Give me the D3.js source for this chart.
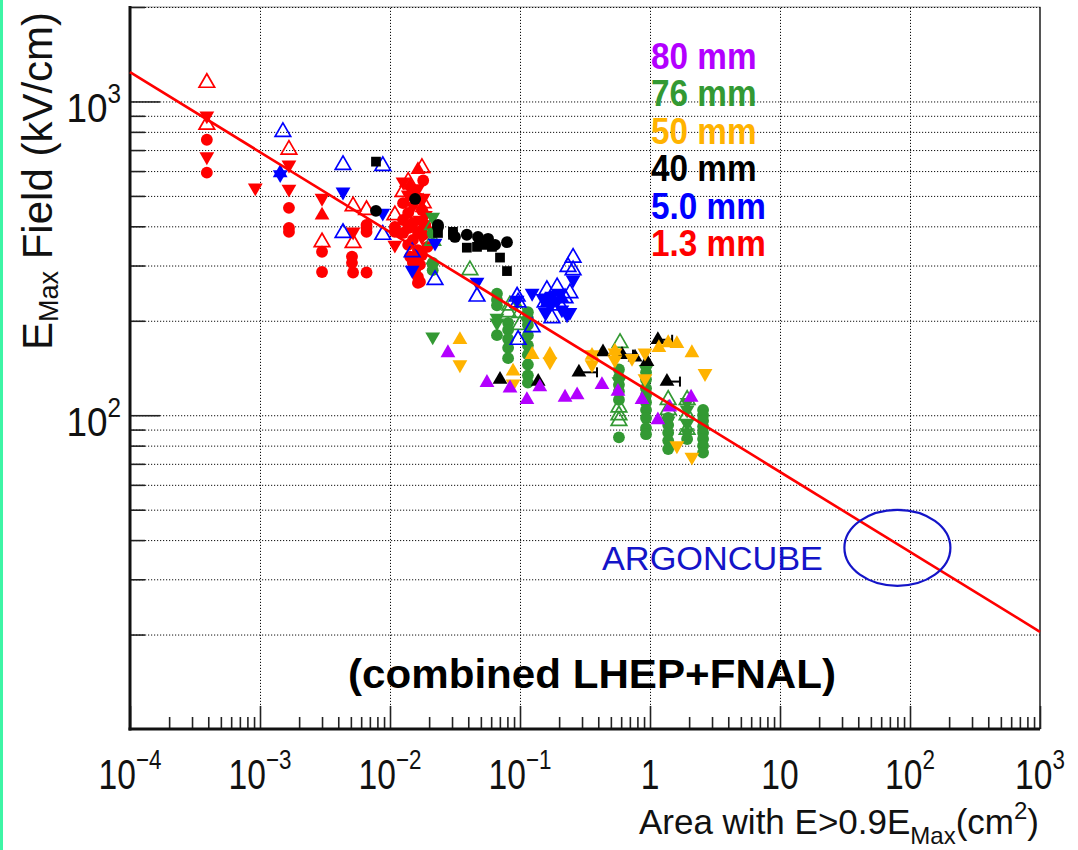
<!DOCTYPE html>
<html>
<head>
<meta charset="utf-8">
<script src="https://cdn.jsdelivr.net/npm/d3@7"></script>
<style>
  body { margin: 0; background: #fff; }
  svg { display: block; font-family: "Liberation Sans", Arial, Helvetica, sans-serif; }
</style>
</head>
<body>
<div class="chart"></div>
<script>
var svgWidth = 1078;
var svgHeight = 850;

// plot frame (pixels)
var frame = { left: 130, right: 1040, top: 7, bottom: 729 };

// axis ticks / labels
var xMajor = [1e-4, 1e-3, 1e-2, 1e-1, 1, 10, 100, 1000];
var xLabelBase = ["10", "10", "10", "10", "1", "10", "10", "10"];
var xLabelExp = ["\u22124", "\u22123", "\u22122", "\u22121", "", "", "2", "3"];
var yMajor = [100, 1000];
var yLabelBase = ["10", "10"];
var yLabelExp = ["2", "3"];

// legend
var legendLabels = ["80 mm", "76 mm", "50 mm", "40 mm", "5.0 mm", "1.3 mm"];
var legendColors = ["#b300ff", "#339933", "#ffb300", "#000000", "#0000ff", "#ff0000"];

// power-law fit line (end points)
var fitX = [1e-4, 1e3];
var fitY = [1240, 20.4];

// ---- 1.3 mm (red)
var redCircles = [[3.9e-4, 755], [3.9e-4, 593], [1.67e-3, 458], [1.67e-3, 395], [1.67e-3, 384],
  [3.0e-3, 332], [3.0e-3, 286], [5.1e-3, 320], [5.1e-3, 306], [5.2e-3, 285], [6.6e-3, 404],
  [6.6e-3, 395], [6.6e-3, 384], [6.6e-3, 285], [1.09e-2, 398], [1.09e-2, 384], [1.26e-2, 474],
  [1.26e-2, 419], [1.26e-2, 381], [1.38e-2, 441], [1.38e-2, 395], [1.38e-2, 349], [1.43e-2, 320],
  [1.5e-2, 410], [1.5e-2, 362], [1.5e-2, 306], [1.56e-2, 290], [1.64e-2, 276], [1.64e-2, 336],
  [1.64e-2, 384], [1.64e-2, 264], [1.7e-2, 266], [1.7e-2, 302], [1.76e-2, 451], [1.76e-2, 324],
  [1.8e-2, 376], [1.87e-2, 404], [1.94e-2, 344], [1.5e-2, 520], [1.7e-2, 490], [1.8e-2, 560]];
var redDown = [[3.9e-4, 900], [3.9e-4, 667], [9.2e-4, 531], [1.67e-3, 628], [1.67e-3, 526],
  [3.0e-3, 492], [5.2e-3, 384], [1.09e-2, 349], [1.26e-2, 555], [1.38e-2, 504], [1.5e-2, 464],
  [1.64e-2, 528], [1.7e-2, 419], [1.76e-2, 370], [1.8e-2, 492], [1.87e-2, 434], [1.64e-2, 314]];
var redUp = [[3.0e-3, 434], [1.64e-2, 606], [1.76e-2, 458], [1.43e-2, 540]];
var redOpen = [[3.9e-4, 1147], [3.9e-4, 843], [1.67e-3, 702], [3.0e-3, 356], [5.2e-3, 464],
  [5.2e-3, 354], [6.6e-3, 451], [1.09e-2, 434], [1.38e-2, 555], [1.76e-2, 614], [1.8e-2, 474],
  [1.26e-2, 515], [1.94e-2, 410]];

// ---- 5.0 mm (blue)
var blueOpen = [[1.5e-3, 800], [4.35e-3, 628], [4.35e-3, 381], [8.8e-3, 623], [8.8e-3, 376],
  [1.48e-2, 331], [2.22e-2, 270], [4.67e-2, 239], [9.5e-2, 239], [9.67e-2, 174], [9.67e-2, 229],
  [0.124, 191], [0.161, 251], [0.193, 256], [0.176, 204], [0.234, 297], [0.256, 318],
  [0.256, 290], [0.242, 245], [0.156, 229], [0.203, 224], [0.222, 236]];
var blueDown = [[1.43e-3, 585], [4.35e-3, 515], [8.8e-3, 441], [1.48e-2, 290], [2.22e-2, 354],
  [4.67e-2, 266], [9.5e-2, 233], [0.124, 245], [0.256, 270], [0.150, 236], [0.17, 224],
  [0.193, 231], [0.21, 217], [0.23, 209], [0.242, 213], [0.176, 240], [0.2, 245], [0.156, 213]];
var blueUp = [[1.43e-3, 592], [0.161, 228], [0.21, 236]];

// ---- 40 mm (black)
var blackSquares = [[7.8e-3, 643], [2.34e-2, 381], [3.05e-2, 376], [3.05e-2, 384], [3.9e-2, 342],
  [4.67e-2, 344], [5.38e-2, 349], [6.08e-2, 344], [7.02e-2, 318], [7.94e-2, 288]];
var blackCircles = [[7.8e-3, 448], [1.56e-2, 489], [2.34e-2, 398], [2.34e-2, 404], [3.16e-2, 370],
  [3.9e-2, 376], [4.75e-2, 370], [5.68e-2, 365], [6.43e-2, 349], [7.94e-2, 356]];
var blackUp = [[7.02e-2, 130], [0.138, 128], [0.284, 137], [0.435, 159], [0.609, 156],
  [0.767, 153], [0.948, 148], [1.15, 174], [1.35, 128]];
// horizontal error bars: [x, y, xHigh]
var blackErr = [[0.284, 137, 0.391], [0.609, 156, 0.74], [1.15, 174, 1.48], [1.35, 128, 1.70]];

// ---- 50 mm (orange)
var orangeUp = [[3.45e-2, 174], [0.124, 156], [8.84e-2, 138], [0.358, 155], [0.537, 160],
  [1.38, 170], [1.61, 169], [2.1, 158], [1.17, 164], [0.17, 156]];
var orangeDown = [[3.45e-2, 145], [8.84e-2, 126], [0.17, 148], [0.358, 145], [0.358, 156],
  [0.537, 150], [0.538, 158], [0.727, 152], [0.915, 158], [0.915, 131], [2.65, 136],
  [1.61, 80], [2.1, 73.6]];

// ---- 80 mm (purple)
var purpleUp = [[2.79e-2, 158], [5.57e-2, 127], [8.38e-2, 122], [0.113, 112], [0.142, 123],
  [0.222, 114], [0.275, 116], [0.427, 125], [0.567, 119], [0.868, 112], [1.15, 96.6],
  [1.42, 106], [2.07, 114]];

// ---- 76 mm (green)
var greenCircles = [[0.0213, 306], [0.0213, 290], [0.0213, 380], [0.0665, 244], [0.0665, 233],
  [0.0665, 224], [0.0665, 180], [0.081, 197], [0.081, 187], [0.081, 175], [0.081, 164],
  [0.081, 152], [0.115, 213], [0.115, 204], [0.115, 194], [0.115, 180], [0.115, 167],
  [0.115, 156], [0.115, 145], [0.115, 134], [0.115, 127], [0.577, 140], [0.577, 132],
  [0.577, 125], [0.577, 119], [0.577, 112], [0.577, 85], [0.932, 137], [0.932, 130],
  [0.932, 122], [0.932, 116], [0.932, 110], [0.932, 104], [0.932, 98], [0.932, 91],
  [0.932, 87], [1.38, 98], [1.38, 93], [1.38, 88], [1.38, 83], [1.38, 78], [1.93, 84],
  [2.56, 104], [2.56, 100], [2.56, 96], [2.56, 92], [2.56, 88], [2.56, 84], [2.56, 80],
  [2.56, 76]];
var greenDown = [[0.0213, 428], [0.0213, 297], [0.0213, 178], [0.0665, 204], [0.0665, 197],
  [0.577, 128], [0.932, 140], [1.38, 96], [1.93, 110], [1.93, 104], [1.93, 94], [1.93, 88]];
var greenOpen = [[0.0213, 404], [0.0213, 360], [0.0412, 290], [0.081, 213], [0.0835, 224],
  [0.1, 212], [0.1, 194], [0.588, 170], [0.577, 106], [0.577, 100], [0.577, 96], [1.38, 112],
  [1.38, 104], [1.93, 112], [1.93, 100], [1.93, 90]];

// ARGONCUBE marker (centre in data units)
var argonX = [80];
var argonY = [37.8];

var RED = "#ff0000", BLUE = "#0000ff", GREEN = "#339933", ORANGE = "#ffb300",
  PURPLE = "#b300ff", BLACK = "#000000";

var svg = d3.select(".chart").append("svg")
  .attr("width", svgWidth)
  .attr("height", svgHeight);

svg.append("rect").attr("width", svgWidth).attr("height", svgHeight).attr("fill", "#fff");
// slide edge strip
svg.append("rect").attr("x", 0).attr("y", 0).attr("width", 3).attr("height", svgHeight)
  .attr("fill", "#3df5a5");

var x = d3.scaleLog().domain([1e-4, 1e3]).range([frame.left, frame.right]);
var y = d3.scaleLog().domain([10, 2000]).range([frame.bottom, frame.top]);

var plotW = frame.right - frame.left;
var plotH = frame.bottom - frame.top;

// minor tick values
var xMinor = [];
xMajor.slice(0, -1).forEach(function (d) {
  for (var k = 2; k <= 9; k++) xMinor.push(d * k);
});
var yMinor = [20, 30, 40, 50, 60, 70, 80, 90, 200, 300, 400, 500, 600, 700, 800, 900, 2000];
var yGrid = yMinor.concat(yMajor);

// frame
svg.append("rect")
  .attr("x", frame.left).attr("y", frame.top)
  .attr("width", plotW).attr("height", plotH)
  .attr("fill", "none").attr("stroke", "#999").attr("stroke-width", 1);
svg.append("line")
  .attr("x1", frame.right).attr("x2", frame.right)
  .attr("y1", frame.top).attr("y2", frame.bottom)
  .attr("stroke", "#555").attr("stroke-width", 2);

// grid lines
var gridY = svg.append("g")
  .attr("transform", `translate(${frame.left},0)`)
  .call(d3.axisLeft(y).tickValues(yGrid).tickSize(-plotW).tickFormat(""));
gridY.select(".domain").remove();
gridY.selectAll("line").attr("stroke", "#111").attr("stroke-dasharray", "1.2,1.8");

var gridX = svg.append("g")
  .attr("transform", `translate(0,${frame.bottom})`)
  .call(d3.axisBottom(x).tickValues(xMajor.slice(1, -1)).tickSize(-plotH).tickFormat(""));
gridX.select(".domain").remove();
gridX.selectAll("line").attr("stroke", "#111").attr("stroke-dasharray", "1.2,1.8");

// axis ticks (inward)
function tickAxis(axis, len, vals) {
  return axis.tickValues(vals).tickSize(-len).tickSizeOuter(0).tickFormat("");
}
var yAxisG = svg.append("g").attr("transform", `translate(${frame.left},0)`);
yAxisG.append("g").call(tickAxis(d3.axisLeft(y), 15, yMinor));
yAxisG.append("g").call(tickAxis(d3.axisLeft(y), 30, yMajor));
var xAxisG = svg.append("g").attr("transform", `translate(0,${frame.bottom})`);
xAxisG.append("g").call(tickAxis(d3.axisBottom(x), 12, xMinor));
xAxisG.append("g").call(tickAxis(d3.axisBottom(x), 23, xMajor));
svg.selectAll("g .domain").attr("stroke", "none");
yAxisG.selectAll("line").attr("stroke", "#222").attr("stroke-width", 1.6);
xAxisG.selectAll("line").attr("stroke", "#222").attr("stroke-width", 1.6);

// thick left & bottom axis lines
svg.append("line").attr("x1", frame.left).attr("x2", frame.left)
  .attr("y1", frame.top - 1).attr("y2", frame.bottom + 1.5)
  .attr("stroke", "#111").attr("stroke-width", 3);
svg.append("line").attr("x1", frame.left - 1.5).attr("x2", frame.right)
  .attr("y1", frame.bottom).attr("y2", frame.bottom)
  .attr("stroke", "#111").attr("stroke-width", 3);

// tick labels
xMajor.forEach(function (v, i) {
  var t = svg.append("text")
    .attr("transform", `translate(${x(v)},789) scale(0.8,1)`)
    .attr("text-anchor", "middle")
    .attr("font-size", 42)
    .attr("fill", "#111");
  t.append("tspan").text(xLabelBase[i]);
  if (xLabelExp[i]) {
    t.append("tspan").attr("dy", -20).attr("font-size", 28).text(xLabelExp[i]);
  }
});
yMajor.forEach(function (v, i) {
  var t = svg.append("text")
    .attr("transform", `translate(121,${y(v) + 21}) scale(0.9,1)`)
    .attr("text-anchor", "end")
    .attr("font-size", 41)
    .attr("fill", "#111");
  t.append("tspan").text(yLabelBase[i]);
  t.append("tspan").attr("dy", -19).attr("font-size", 27).text(yLabelExp[i]);
});

// axis titles
var xTitle = svg.append("text")
  .attr("x", 1039).attr("y", 834)
  .attr("text-anchor", "end")
  .attr("font-size", 35)
  .attr("fill", "#111");
xTitle.append("tspan").text("Area with E>0.9E");
xTitle.append("tspan").attr("dy", 10).attr("font-size", 24).text("Max");
xTitle.append("tspan").attr("dy", -10).text("(cm");
xTitle.append("tspan").attr("dy", -15).attr("font-size", 24).text("2");
xTitle.append("tspan").attr("dy", 15).text(")");

var yTitle = svg.append("text")
  .attr("transform", "translate(52,350) rotate(-90)")
  .attr("text-anchor", "start")
  .attr("font-size", 42)
  .attr("fill", "#111");
yTitle.append("tspan").text("E");
yTitle.append("tspan").attr("dy", 6).attr("font-size", 27).text("Max");
yTitle.append("tspan").attr("dy", -6).text(" Field (kV/cm)");

// scatter series
var series = [
  { pts: redCircles, color: RED, shape: "circle" },
  { pts: redDown, color: RED, shape: "down" },
  { pts: redUp, color: RED, shape: "up" },
  { pts: redOpen, color: RED, shape: "open" },
  { pts: greenCircles, color: GREEN, shape: "circle" },
  { pts: greenDown, color: GREEN, shape: "down" },
  { pts: greenOpen, color: GREEN, shape: "open" },
  { pts: blueDown, color: BLUE, shape: "down" },
  { pts: blueUp, color: BLUE, shape: "up" },
  { pts: blueOpen, color: BLUE, shape: "open" },
  { pts: blackSquares, color: BLACK, shape: "square" },
  { pts: blackCircles, color: BLACK, shape: "circle" },
  { pts: blackUp, color: BLACK, shape: "up" },
  { pts: orangeUp, color: ORANGE, shape: "up" },
  { pts: orangeDown, color: ORANGE, shape: "down" },
  { pts: purpleUp, color: PURPLE, shape: "up" }
];

var symCircle = d3.symbol(d3.symbolCircle, 110);
var symTri = d3.symbol(d3.symbolTriangle, 95);
var symOpen = d3.symbol(d3.symbolTriangle, 105);
var symSquare = d3.symbol(d3.symbolSquare, 95);

var marks = svg.append("g");
// error bars first
var errG = marks.append("g").attr("stroke", BLACK).attr("stroke-width", 2);
errG.selectAll("line.err")
  .data(blackErr).enter().append("line")
  .attr("x1", d => x(d[0])).attr("x2", d => x(d[2]))
  .attr("y1", d => y(d[1])).attr("y2", d => y(d[1]));
errG.selectAll("line.cap")
  .data(blackErr).enter().append("line")
  .attr("x1", d => x(d[2])).attr("x2", d => x(d[2]))
  .attr("y1", d => y(d[1]) - 5).attr("y2", d => y(d[1]) + 5);

series.forEach(function (s) {
  var g = marks.append("g");
  var p = g.selectAll("path").data(s.pts).enter().append("path");
  if (s.shape === "circle") {
    p.attr("d", symCircle).attr("fill", s.color)
      .attr("transform", d => `translate(${x(d[0])},${y(d[1])})`);
  } else if (s.shape === "square") {
    p.attr("d", symSquare).attr("fill", s.color)
      .attr("transform", d => `translate(${x(d[0])},${y(d[1])})`);
  } else if (s.shape === "up") {
    p.attr("d", symTri).attr("fill", s.color)
      .attr("transform", d => `translate(${x(d[0])},${y(d[1])})`);
  } else if (s.shape === "down") {
    p.attr("d", symTri).attr("fill", s.color)
      .attr("transform", d => `translate(${x(d[0])},${y(d[1])}) rotate(180)`);
  } else {
    p.attr("d", symOpen).attr("fill", "none").attr("stroke", s.color).attr("stroke-width", 1.7)
      .attr("transform", d => `translate(${x(d[0])},${y(d[1])})`);
  }
});

// fit line
var fitData = fitX.map((d, i) => [d, fitY[i]]);
svg.append("path")
  .datum(fitData)
  .attr("d", d3.line().x(d => x(d[0])).y(d => y(d[1])))
  .attr("fill", "none")
  .attr("stroke", RED)
  .attr("stroke-width", 2.6);

// legend
legendLabels.forEach(function (l, i) {
  svg.append("text")
    .attr("transform", `translate(651,${69 + i * 37.4}) scale(0.9,1)`)
    .attr("font-size", 37)
    .attr("font-weight", "bold")
    .attr("fill", legendColors[i])
    .text(l);
});

// annotations
svg.append("text")
  .attr("x", 348).attr("y", 688)
  .attr("textLength", 488)
  .attr("lengthAdjust", "spacingAndGlyphs")
  .attr("font-size", 41)
  .attr("font-weight", "bold")
  .attr("fill", "#000")
  .text("(combined LHEP+FNAL)");

svg.append("text")
  .attr("x", 602).attr("y", 570)
  .attr("textLength", 221)
  .attr("lengthAdjust", "spacingAndGlyphs")
  .attr("font-size", 33)
  .attr("fill", "#1414c8")
  .text("ARGONCUBE");

svg.append("ellipse")
  .attr("cx", x(argonX[0])).attr("cy", y(argonY[0]))
  .attr("rx", 53).attr("ry", 38)
  .attr("fill", "none")
  .attr("stroke", "#1414c8")
  .attr("stroke-width", 2.2);
</script>
</body>
</html>
